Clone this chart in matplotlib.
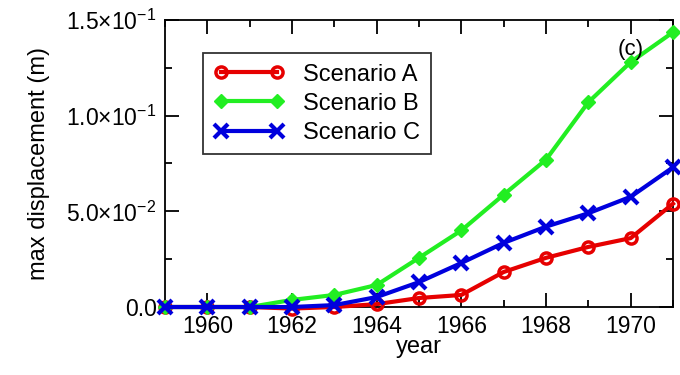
import matplotlib.pyplot as plt
from matplotlib.ticker import FixedLocator, MultipleLocator

plt.rcParams['font.family'] = ['Liberation Sans', 'DejaVu Sans']
plt.rcParams['mathtext.default'] = 'regular'

# data
years = [1959, 1960, 1961, 1962, 1963, 1964, 1965, 1966, 1967, 1968, 1969, 1970, 1971]
scen_a = [0.0, 0.0, 0.0, -0.0008, 0.0, 0.0015, 0.0047, 0.0063, 0.0183, 0.0257, 0.0314, 0.036, 0.054]
scen_b = [0.0, 0.0, 0.0, 0.0037, 0.0063, 0.0115, 0.0257, 0.040, 0.0587, 0.077, 0.107, 0.128, 0.1436]
scen_c = [0.0, 0.0, 0.0, 0.0, 0.001, 0.0052, 0.013, 0.023, 0.0335, 0.042, 0.049, 0.0576, 0.073]

ytick_vals = [0.0, 0.05, 0.10, 0.15]
ytick_labels = ['0.0', '5.0×10$^{-2}$', '1.0×10$^{-1}$', '1.5×10$^{-1}$']
xtick_vals = [1960, 1962, 1964, 1966, 1968, 1970]

fig = plt.figure(figsize=(6.8, 3.75), dpi=100)
ax = fig.add_axes([0.2426, 0.1813, 0.7471, 0.7654])

ax.plot(years, scen_a, color='#e60000', lw=3, marker='o', ms=8, mfc='none',
        mew=2.5, label='Scenario A', clip_on=False, zorder=3)
ax.plot(years, scen_b, color='#22ee22', lw=3, marker='D', ms=7.5,
        label='Scenario B', clip_on=False, zorder=3)
ax.plot(years, scen_c, color='#0000dd', lw=3, marker='x', ms=10, mew=3,
        label='Scenario C', clip_on=False, zorder=3)

ax.set_xlim(1959, 1971)
ax.set_ylim(0, 0.15)
ax.xaxis.set_major_locator(FixedLocator(xtick_vals))
ax.xaxis.set_minor_locator(MultipleLocator(1))
ax.set_yticks(ytick_vals)
ax.set_yticklabels(ytick_labels)
ax.yaxis.set_minor_locator(MultipleLocator(0.025))
ax.tick_params(which='both', direction='in', top=True, right=True,
               labelsize=16.5, width=1.3, pad=6)
ax.tick_params(which='major', length=10)
ax.tick_params(which='minor', length=5)
for s in ax.spines.values():
    s.set_linewidth(1.3)

ax.set_xlabel('year', fontsize=17, labelpad=-2)
ax.set_ylabel('max displacement (m)', fontsize=17, labelpad=12)
ax.text(1970, 0.1345, '(c)', fontsize=16, ha='center', va='center')

leg = ax.legend(loc='upper left', bbox_to_anchor=(0.075, 0.885), fontsize=17,
                frameon=True, fancybox=False, edgecolor='black', numpoints=2,
                handlelength=3.0, handletextpad=0.8, borderpad=0.45,
                labelspacing=0.3, borderaxespad=0)
leg.get_frame().set_linewidth(1.3)

plt.savefig('out.png', dpi=100)
